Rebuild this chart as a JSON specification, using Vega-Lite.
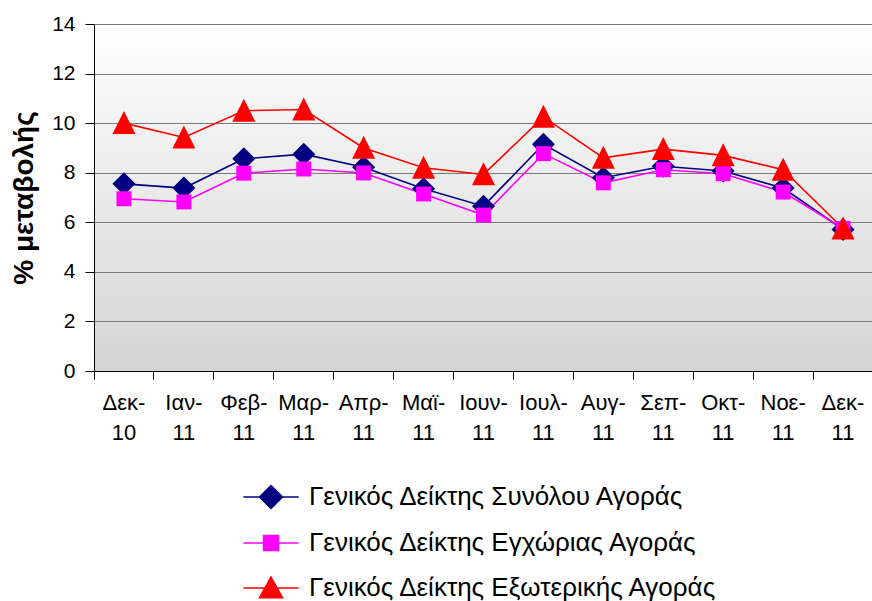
{
  "$schema": "https://vega.github.io/schema/vega-lite/v6.json",
  "autosize": {"type": "none"},
  "padding": {"left": 94, "top": 24, "right": 0, "bottom": 230},
  "width": 779,
  "height": 347,
  "background": "#ffffff",
  "view": {
    "fill": {"gradient": "linear", "x1": 0, "y1": 0, "x2": 0, "y2": 1,
      "stops": [{"offset": 0, "color": "#ffffff"}, {"offset": 1, "color": "#d4d4d4"}]},
    "stroke": null
  },
  "config": {
    "font": "Liberation Sans",
    "axis": {"labelFont": "Liberation Sans", "titleFont": "Liberation Sans", "labelColor": "#000000", "titleColor": "#000000"},
    "legend": {"labelFont": "Liberation Sans"}
  },
  "data": {
    "values": [
      {"month": "Δεκ-10", "series": "Γενικός Δείκτης Συνόλου Αγοράς", "value": 7.55},
      {"month": "Ιαν-11", "series": "Γενικός Δείκτης Συνόλου Αγοράς", "value": 7.38},
      {"month": "Φεβ-11", "series": "Γενικός Δείκτης Συνόλου Αγοράς", "value": 8.56},
      {"month": "Μαρ-11", "series": "Γενικός Δείκτης Συνόλου Αγοράς", "value": 8.75},
      {"month": "Απρ-11", "series": "Γενικός Δείκτης Συνόλου Αγοράς", "value": 8.22},
      {"month": "Μαϊ-11", "series": "Γενικός Δείκτης Συνόλου Αγοράς", "value": 7.35},
      {"month": "Ιουν-11", "series": "Γενικός Δείκτης Συνόλου Αγοράς", "value": 6.65},
      {"month": "Ιουλ-11", "series": "Γενικός Δείκτης Συνόλου Αγοράς", "value": 9.15},
      {"month": "Αυγ-11", "series": "Γενικός Δείκτης Συνόλου Αγοράς", "value": 7.8},
      {"month": "Σεπ-11", "series": "Γενικός Δείκτης Συνόλου Αγοράς", "value": 8.26},
      {"month": "Οκτ-11", "series": "Γενικός Δείκτης Συνόλου Αγοράς", "value": 8.07},
      {"month": "Νοε-11", "series": "Γενικός Δείκτης Συνόλου Αγοράς", "value": 7.38},
      {"month": "Δεκ-11", "series": "Γενικός Δείκτης Συνόλου Αγοράς", "value": 5.71},
      {"month": "Δεκ-10", "series": "Γενικός Δείκτης Εγχώριας Αγοράς", "value": 6.95},
      {"month": "Ιαν-11", "series": "Γενικός Δείκτης Εγχώριας Αγοράς", "value": 6.82},
      {"month": "Φεβ-11", "series": "Γενικός Δείκτης Εγχώριας Αγοράς", "value": 7.98},
      {"month": "Μαρ-11", "series": "Γενικός Δείκτης Εγχώριας Αγοράς", "value": 8.15},
      {"month": "Απρ-11", "series": "Γενικός Δείκτης Εγχώριας Αγοράς", "value": 7.99},
      {"month": "Μαϊ-11", "series": "Γενικός Δείκτης Εγχώριας Αγοράς", "value": 7.14},
      {"month": "Ιουν-11", "series": "Γενικός Δείκτης Εγχώριας Αγοράς", "value": 6.29},
      {"month": "Ιουλ-11", "series": "Γενικός Δείκτης Εγχώριας Αγοράς", "value": 8.77},
      {"month": "Αυγ-11", "series": "Γενικός Δείκτης Εγχώριας Αγοράς", "value": 7.59},
      {"month": "Σεπ-11", "series": "Γενικός Δείκτης Εγχώριας Αγοράς", "value": 8.12},
      {"month": "Οκτ-11", "series": "Γενικός Δείκτης Εγχώριας Αγοράς", "value": 7.96},
      {"month": "Νοε-11", "series": "Γενικός Δείκτης Εγχώριας Αγοράς", "value": 7.22},
      {"month": "Δεκ-11", "series": "Γενικός Δείκτης Εγχώριας Αγοράς", "value": 5.75},
      {"month": "Δεκ-10", "series": "Γενικός Δείκτης Εξωτερικής Αγοράς", "value": 10.0},
      {"month": "Ιαν-11", "series": "Γενικός Δείκτης Εξωτερικής Αγοράς", "value": 9.42},
      {"month": "Φεβ-11", "series": "Γενικός Δείκτης Εξωτερικής Αγοράς", "value": 10.5},
      {"month": "Μαρ-11", "series": "Γενικός Δείκτης Εξωτερικής Αγοράς", "value": 10.55},
      {"month": "Απρ-11", "series": "Γενικός Δείκτης Εξωτερικής Αγοράς", "value": 9.0},
      {"month": "Μαϊ-11", "series": "Γενικός Δείκτης Εξωτερικής Αγοράς", "value": 8.2},
      {"month": "Ιουν-11", "series": "Γενικός Δείκτης Εξωτερικής Αγοράς", "value": 7.93},
      {"month": "Ιουλ-11", "series": "Γενικός Δείκτης Εξωτερικής Αγοράς", "value": 10.25},
      {"month": "Αυγ-11", "series": "Γενικός Δείκτης Εξωτερικής Αγοράς", "value": 8.6},
      {"month": "Σεπ-11", "series": "Γενικός Δείκτης Εξωτερικής Αγοράς", "value": 8.95},
      {"month": "Οκτ-11", "series": "Γενικός Δείκτης Εξωτερικής Αγοράς", "value": 8.7},
      {"month": "Νοε-11", "series": "Γενικός Δείκτης Εξωτερικής Αγοράς", "value": 8.12},
      {"month": "Δεκ-11", "series": "Γενικός Δείκτης Εξωτερικής Αγοράς", "value": 5.75}
    ]
  },
  "encoding": {
    "x": {
      "field": "month", "type": "nominal", "bandPosition": 0.5,
      "sort": ["Δεκ-10", "Ιαν-11", "Φεβ-11", "Μαρ-11", "Απρ-11", "Μαϊ-11", "Ιουν-11", "Ιουλ-11", "Αυγ-11", "Σεπ-11", "Οκτ-11", "Νοε-11", "Δεκ-11"],
      "scale": {"type": "band", "paddingInner": 0, "paddingOuter": 0},
      "axis": {
        "title": null, "bandPosition": 0, "labelOffset": 0, "labelAngle": 0,
        "labelFontSize": 22, "labelPadding": 13, "labelLineHeight": 30, "labelBaseline": "top",
        "labelOverlap": false, "labelFlush": false, "labelBound": false,
        "tickSize": 8, "tickColor": "#000000", "domainColor": "#000000", "grid": false,
        "labelExpr": "[split(datum.label, '-')[0] + '-', split(datum.label, '-')[1]]"
      }
    },
    "y": {
      "field": "value", "type": "quantitative",
      "scale": {"domain": [0, 14], "nice": false, "zero": true},
      "axis": {
        "title": "% μεταβολής", "titleFontSize": 28, "titleFontWeight": "bold", "titlePadding": 13,
        "values": [0, 2, 4, 6, 8, 10, 12, 14], "labelFontSize": 21, "labelPadding": 10,
        "tickSize": 9, "tickColor": "#000000", "domainColor": "#000000",
        "grid": true, "gridColor": "#7a7a7a", "gridOpacity": 1
      }
    },
    "color": {
      "field": "series", "type": "nominal",
      "scale": {
        "domain": ["Γενικός Δείκτης Συνόλου Αγοράς", "Γενικός Δείκτης Εγχώριας Αγοράς", "Γενικός Δείκτης Εξωτερικής Αγοράς"],
        "range": ["#000080", "#ff00ff", "#ff0000"]
      },
      "legend": {
        "title": null, "orient": "none", "legendX": 164, "legendY": 460, "direction": "vertical",
        "labelFontSize": 26, "labelColor": "#000000", "labelLimit": 0, "symbolSize": 529, "labelOffset": 25,
        "rowPadding": 18, "padding": 0,
        "encode": {
          "symbols": {
            "update": {
              "shape": {"signal": "datum.value === 'Γενικός Δείκτης Συνόλου Αγοράς' ? 'M-2.4,0L2.4,0M-1,0L0,-1L1,0L0,1Z' : datum.value === 'Γενικός Δείκτης Εγχώριας Αγοράς' ? 'M-2.4,0L2.4,0M-0.65,-0.65L0.65,-0.65L0.65,0.65L-0.65,0.65Z' : 'M-2.4,0L2.4,0M0,-0.95L1,0.85L-1,0.85Z'"},
              "stroke": {"signal": "datum.value === 'Γενικός Δείκτης Συνόλου Αγοράς' ? '#000080' : datum.value === 'Γενικός Δείκτης Εγχώριας Αγοράς' ? '#ff00ff' : '#ff0000'"},
              "fill": {"signal": "datum.value === 'Γενικός Δείκτης Συνόλου Αγοράς' ? '#000080' : datum.value === 'Γενικός Δείκτης Εγχώριας Αγοράς' ? '#ff00ff' : '#ff0000'"},
              "strokeWidth": {"value": 1.5},
              "opacity": {"value": 1}
            }
          }
        }
      }
    }
  },
  "layer": [
    {
      "mark": {"type": "line", "strokeWidth": 1.6}
    },
    {
      "mark": {"type": "point", "filled": true, "opacity": 1, "size": 529},
      "encoding": {
        "shape": {
          "condition": [
            {"test": "datum.series === 'Γενικός Δείκτης Συνόλου Αγοράς'", "value": "M-1,0L0,-1L1,0L0,1Z"},
            {"test": "datum.series === 'Γενικός Δείκτης Εγχώριας Αγοράς'", "value": "M-0.65,-0.65L0.65,-0.65L0.65,0.65L-0.65,0.65Z"}
          ],
          "value": "M0,-1.05L1,0.95L-1,0.95Z"
        }
      }
    }
  ]
}
